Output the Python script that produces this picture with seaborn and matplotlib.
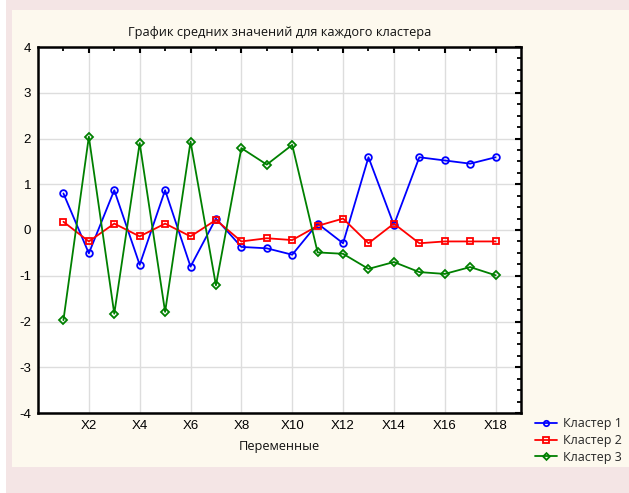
import matplotlib
matplotlib.use("Agg")
import matplotlib.pyplot as plt
import matplotlib.patches as mpatches
from matplotlib.ticker import MultipleLocator, FixedLocator
import numpy as np
import pandas as pd
import seaborn as sns

variables = ['X1', 'X2', 'X3', 'X4', 'X5', 'X6', 'X7', 'X8', 'X9',
             'X10', 'X11', 'X12', 'X13', 'X14', 'X15', 'X16', 'X17', 'X18']
cluster1 = [0.80, -0.51, 0.87, -0.76, 0.87, -0.80, 0.25, -0.37, -0.40,
            -0.54, 0.14, -0.29, 1.59, 0.11, 1.59, 1.52, 1.45, 1.59]
cluster2 = [0.18, -0.25, 0.14, -0.14, 0.14, -0.14, 0.22, -0.25, -0.18,
            -0.22, 0.09, 0.25, -0.29, 0.14, -0.29, -0.25, -0.25, -0.25]
cluster3 = [-1.97, 2.04, -1.83, 1.90, -1.79, 1.93, -1.21, 1.79, 1.43,
            1.86, -0.49, -0.52, -0.85, -0.70, -0.92, -0.96, -0.81, -0.99]
cluster_names = ['Кластер 1', 'Кластер 2', 'Кластер 3']
colors = ['#0000ff', '#ff0000', '#008000']
markers = ['o', 's', 'D']

sns.set_style("white")
plt.rcParams['font.family'] = ['Liberation Sans', 'DejaVu Sans']
plt.rcParams['axes.unicode_minus'] = False

pos = np.arange(1, len(variables) + 1)
df = pd.DataFrame({'pos': pos, 'Кластер 1': cluster1,
                   'Кластер 2': cluster2, 'Кластер 3': cluster3})

fig = plt.figure(figsize=(6.29, 4.93), dpi=100)
fig.patch.set_facecolor('#f4e5e5')
# white strip on the left and cream panel behind the axes
fig.patches.append(mpatches.Rectangle((0, 0), 6 / 629, 1, transform=fig.transFigure,
                                      facecolor='white', edgecolor='none', zorder=-2))
fig.patches.append(mpatches.Rectangle((12 / 629, 26 / 493), 1, 457 / 493,
                                      transform=fig.transFigure,
                                      facecolor='#fdf9ee', edgecolor='none', zorder=-2))

ax = fig.add_axes([38 / 629, 80 / 493, 483 / 629, 366 / 493])
ax.set_facecolor('white')

for name, c, m in zip(cluster_names, colors, markers):
    sns.lineplot(data=df, x='pos', y=name, ax=ax, color=c, marker=m,
                 markersize=4.8 if m != 'D' else 4.3, markerfacecolor='none',
                 markeredgecolor=c, markeredgewidth=1.3, linewidth=1.3,
                 label=name, legend=False)

ax.set_xlim(0, 19)
ax.set_ylim(-4, 4)
ax.xaxis.set_major_locator(FixedLocator(pos[1::2]))
ax.xaxis.set_minor_locator(FixedLocator(pos[0::2]))
ax.set_xticklabels(variables[1::2])
ax.yaxis.set_major_locator(MultipleLocator(1))
ax.yaxis.set_minor_locator(MultipleLocator(0.25))
ax.tick_params(which='both', direction='in', top=True, right=True,
               labelsize=9.5, colors='black', pad=5)
ax.tick_params(which='major', length=4, width=1.5)
ax.tick_params(which='minor', length=3, width=1.3)
ax.grid(True, which='major', color='#dddddd', linewidth=1)
for s in ax.spines.values():
    s.set_linewidth(1.8)
    s.set_color('black')

ax.set_title('График средних значений для каждого кластера', fontsize=9.2,
             family=['Open Sans', 'DejaVu Sans'], pad=8, color='#111111')
ax.set_xlabel('Переменные', fontsize=9.2, family=['Open Sans', 'DejaVu Sans'],
              labelpad=6, color='#111111')
ax.set_ylabel('')

handles, labels = ax.get_legend_handles_labels()
fig.legend(handles, labels, loc='upper left', bbox_to_anchor=(524 / 629, 1 - 406 / 493),
           frameon=False, handlelength=1.7, handletextpad=0.5, markerscale=0.8,
           labelspacing=0.3, prop={'family': ['Open Sans', 'DejaVu Sans'], 'size': 9})

fig.savefig('out.png', dpi=100, facecolor=fig.get_facecolor())
